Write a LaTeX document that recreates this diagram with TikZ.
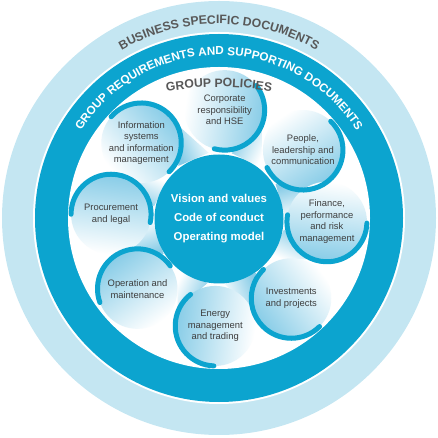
\documentclass[tikz,border=0pt]{standalone}
\usepackage{fontspec}
\setmainfont{Liberation Sans}
\usetikzlibrary{decorations.text}
\definecolor{bandblue}{RGB}{12,164,207}
\definecolor{ringblue}{RGB}{196,230,242}
\definecolor{petalblue}{RGB}{135,204,231}
\definecolor{labelgray}{RGB}{62,62,62}
\definecolor{titlegray}{RGB}{88,88,88}
\begin{document}
\begin{tikzpicture}[x=1pt, y=1pt,
  petaltext/.style={align=center, text=labelgray, font=\fontsize{9.4}{11.6}\selectfont},
  swirl/.style={bandblue, line width=5pt, line cap=round},
  coretext/.style={circle, fill=bandblue, minimum size=129pt, inner sep=0pt, align=center, text=white, font=\bfseries\fontsize{11.4}{19}\selectfont}]
\useasboundingbox (-219,-220) rectangle (219,218);
% Draw rings
\fill[ringblue] (0,0) circle (217);
\fill[white] (0,0) circle (186);
\fill[bandblue] (0,0) circle (184);
\fill[white] (0,0) circle (151);
% Draw ring titles
\path[decorate, decoration={text along path, text align=center, text color=titlegray,
  text={|\bfseries\fontsize{12.2}{14}\selectfont|BUSINESS SPECIFIC DOCUMENTS}}]
  (150:194) arc[start angle=150, end angle=30, radius=194];
\path[decorate, decoration={text along path, text align=center, text color=white,
  text={|\bfseries\fontsize{11.7}{14}\selectfont|GROUP REQUIREMENTS AND SUPPORTING DOCUMENTS}}]
  (160:163) arc[start angle=160, end angle=20, radius=163];
% Draw gaps between petals
\foreach \ang in {87,39,-2,-48,-92,-139,178,136} {
  \pgfmathsetmacro\mid{\ang-22.5}
  \shade[top color=petalblue, bottom color=white, shading angle=\mid]
    (\ang-8:66) -- (\ang-37:66) -- (\mid:100) -- cycle;
}
% Draw core
\node[coretext] (core) at (0,-1) {Vision and values\\Code of conduct\\Operating model};
% Draw petals
\foreach \ang in {87,39,-2,-48,-92,-139,178,136} {
  \pgfmathsetmacro\sha{\ang-185}
  \shade[top color=petalblue, bottom color=white, shading angle=\sha] (\ang:108) circle (40);
}
\foreach \ang/\st/\en in {87/38/-105, 39/46/-154, -2/-2/-190, -48/-45/-226,
    -92/-92/-232, -139/-160/-325, 178/180/-12, 136/139/-46}
  \draw[swirl] (\ang:108) ++(\st:40) arc[start angle=\st, end angle=\en, radius=40];
% Petal labels
\foreach \ang/\nm/\txt in {87/corp/{Corporate\\responsibility\\and HSE},
    39/people/{People,\\leadership and\\communication},
    -2/finance/{Finance,\\performance\\and risk\\management},
    -48/invest/{Investments\\and projects},
    -92/energy/{Energy\\management\\and trading},
    -139/operation/{Operation and\\maintenance},
    178/procure/{Procurement\\and legal},
    136/infosys/{Information\\systems\\and information\\management}}
  \node[petaltext] (\nm) at (\ang:108) {\txt};
% Inner title
\path[decorate, decoration={text along path, text align=center, text color=titlegray,
  text={|\bfseries\fontsize{12.2}{14}\selectfont|GROUP POLICIES}}]
  (0,-169) ++(105:300) arc[start angle=105, end angle=75, radius=300];
\end{tikzpicture}
\end{document}
